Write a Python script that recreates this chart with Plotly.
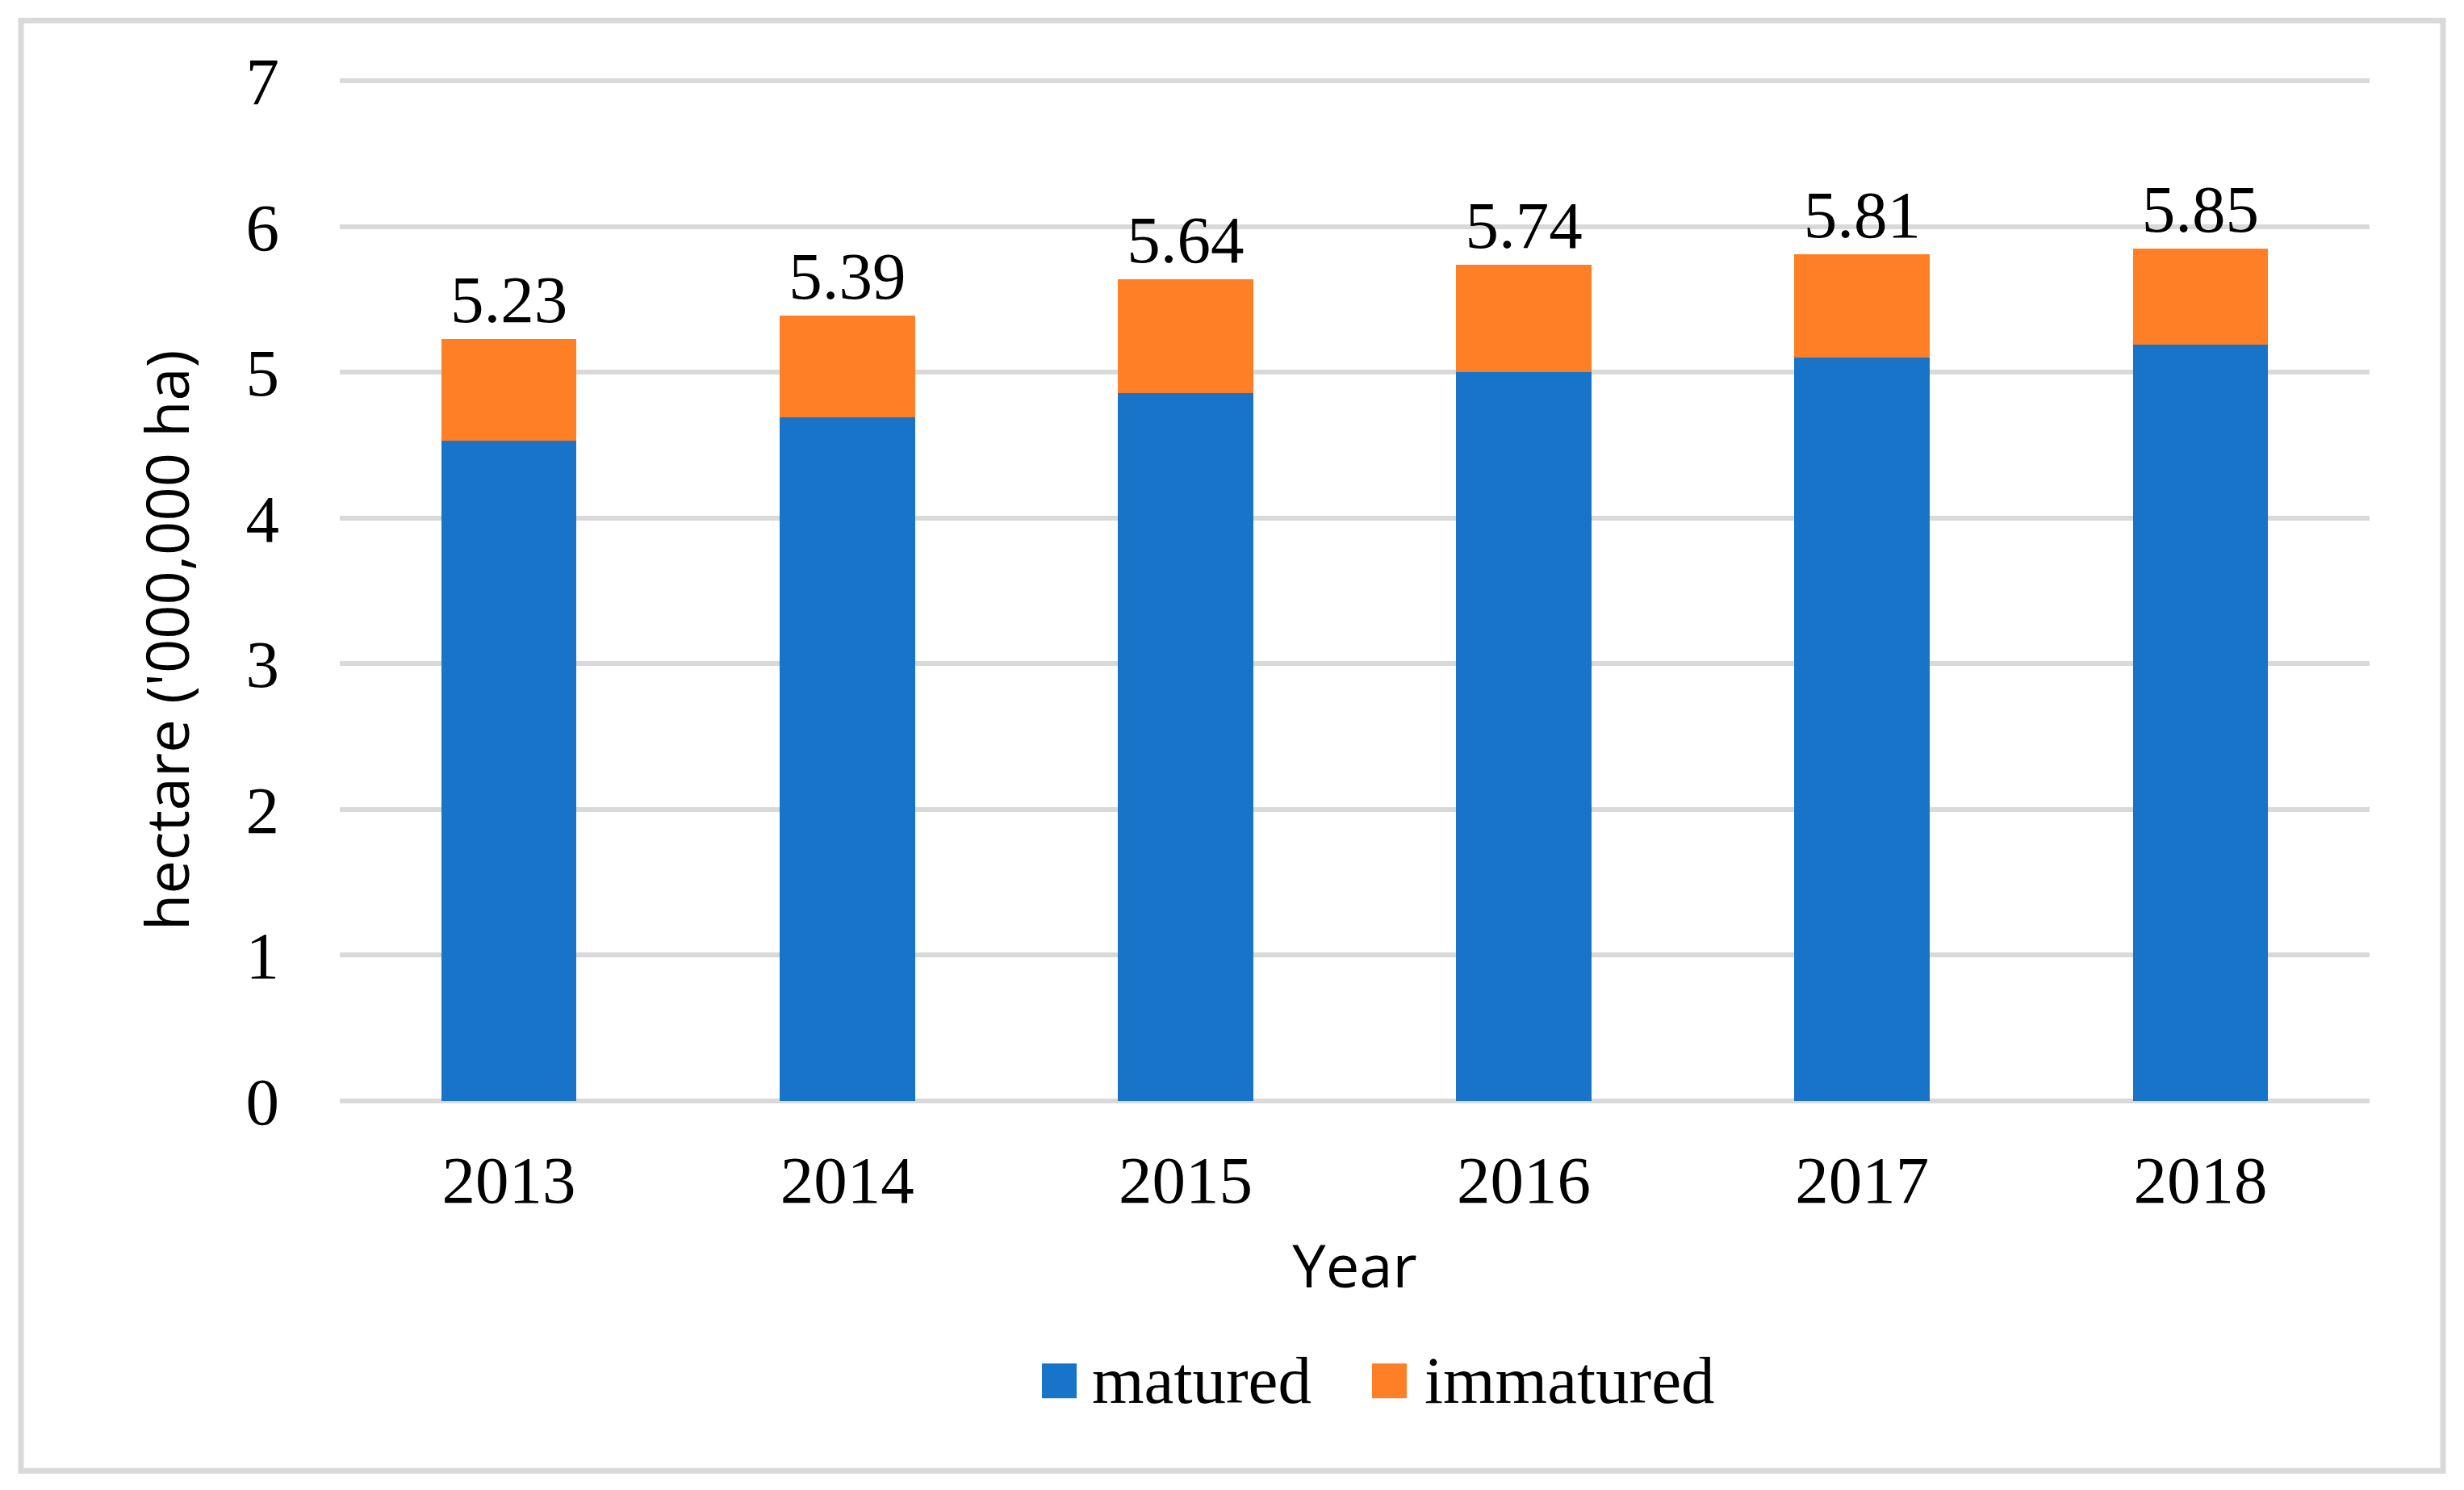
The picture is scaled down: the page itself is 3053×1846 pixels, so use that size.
import plotly.graph_objects as go

# data (million hectares)
years = ["2013", "2014", "2015", "2016", "2017", "2018"]
matured = [4.53, 4.69, 4.86, 5.00, 5.10, 5.19]
immatured = [0.70, 0.70, 0.78, 0.74, 0.71, 0.66]
series_names = ["matured", "immatured"]
series_colors = ["#1874C9", "#FF7F27"]
y_ticks = [0, 1, 2, 3, 4, 5, 6, 7]

totals = [round(m + i, 2) for m, i in zip(matured, immatured)]

# the page body keeps its default 8px margin, so shrink the figure to fit
PAGE = 8
W, H = 3053 - 2 * PAGE, 1846 - 2 * PAGE
Y_LO, Y_HI = -0.03, 7.03          # a little slack so gridlines 0 and 7 get drawn
UNIT = 1264 / 7                   # px per unit in the reference
L = 421 - PAGE
R = W - (2936 - PAGE)
PLOT_BOTTOM = (1364 - PAGE) - Y_LO * UNIT
PLOT_TOP = (100 - PAGE) - (Y_HI - 7) * UNIT
T, B = PLOT_TOP, H - PLOT_BOTTOM
PW, PH = W - L - R, PLOT_BOTTOM - PLOT_TOP

SERIF = "Liberation Serif, Times New Roman, serif"
SANS = "Open Sans, Noto Sans, sans-serif"
GRID = "#D9D9D9"


# reference-image pixels -> paper coordinates
def px(x):
    return (x - PAGE - L) / PW


def py(y):
    return (PLOT_BOTTOM - (y - PAGE)) / PH


fig = go.Figure()
fig.add_trace(go.Bar(x=years, y=matured, name=series_names[0],
                     marker=dict(color=series_colors[0], line=dict(width=0))))
# the stack total rides on top of the last segment
fig.add_trace(go.Bar(x=years, y=immatured, name=series_names[1],
                     marker=dict(color=series_colors[1], line=dict(width=0)),
                     text=[f"{t:.2f}" for t in totals], textposition="outside",
                     textfont=dict(family=SERIF, size=83, color="black"),
                     constraintext="none", cliponaxis=False))

# hand-built legend so the swatches match the big squares of the original
legend_swatch_x = [1291, 1700]
legend_text_x = [1351, 1763]
shapes = []
annotations = []
for name, color, sx, tx in zip(series_names, series_colors, legend_swatch_x, legend_text_x):
    shapes.append(dict(type="rect", xref="paper", yref="paper",
                       x0=px(sx), x1=px(sx + 43), y0=py(1733), y1=py(1690),
                       fillcolor=color, line=dict(width=0)))
    annotations.append(dict(text=name, xref="paper", yref="paper",
                            x=px(tx), y=py(1711), xanchor="left", yanchor="middle",
                            showarrow=False,
                            font=dict(family=SERIF, size=83, color="black")))

# y axis title, sits a bit below the plot centre like the original
annotations.append(dict(text="hectare ('000,000 ha)", xref="paper", yref="paper",
                        x=px(206), y=py(793), xanchor="center", yanchor="middle",
                        textangle=-90, showarrow=False,
                        font=dict(family=SANS, size=74, color="black")))

# outer frame
shapes.append(dict(type="rect", xref="paper", yref="paper",
                   x0=px(26), x1=px(3027), y0=py(1823), y1=py(25),
                   line=dict(color=GRID, width=7), fillcolor="rgba(0,0,0,0)",
                   layer="below"))

fig.update_layout(
    width=W, height=H,
    margin=dict(l=L, r=R, t=T, b=B, autoexpand=False),
    barmode="stack", bargap=0.6,
    plot_bgcolor="white", paper_bgcolor="white",
    showlegend=False,
    shapes=shapes, annotations=annotations,
    font=dict(family=SERIF, size=83, color="black"),
)
fig.update_xaxes(
    type="category",
    showgrid=False, showline=False, zeroline=False, ticks="",
    tickfont=dict(family=SERIF, size=83, color="black"),
    ticklabelstandoff=37,
    title=dict(text="Year", font=dict(family=SANS, size=74, color="black"), standoff=36),
)
fig.update_yaxes(
    range=[Y_LO, Y_HI], tickvals=y_ticks, showgrid=True, gridcolor=GRID, gridwidth=6,
    zeroline=False, showline=False, ticks="",
    tickfont=dict(family=SERIF, size=83, color="black"),
    ticklabelstandoff=74,
)

fig.write_html("out.html")
